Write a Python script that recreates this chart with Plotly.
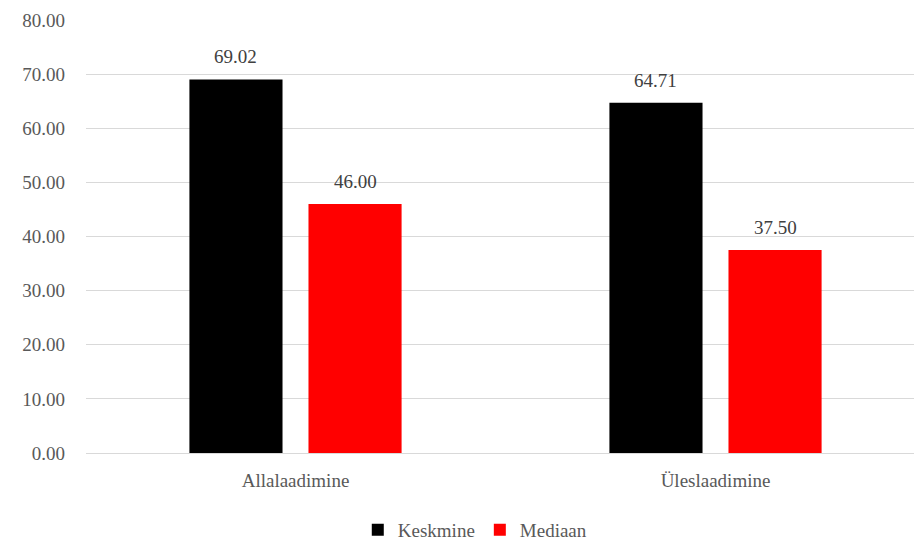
import plotly.graph_objects as go

categories = ["Allalaadimine", "Üleslaadimine"]
keskmine = [69.02, 64.71]
mediaan = [46.00, 37.50]
y_ticks = [0, 10, 20, 30, 40, 50, 60, 70, 80]

font_family = "'Liberation Serif', 'Times New Roman', serif"

fig = go.Figure()
fig.add_trace(go.Bar(name="Keskmine", x=categories, y=keskmine,
                     marker=dict(color="#000000", line=dict(width=0))))
fig.add_trace(go.Bar(name="Mediaan", x=categories, y=mediaan,
                     marker=dict(color="#FF0000", line=dict(width=0))))

# value labels above each bar
offsets = [-0.1429, 0.1417]
for series, off in zip([keskmine, mediaan], offsets):
    for i, v in enumerate(series):
        fig.add_annotation(x=i + off, y=v, xref="x", yref="y",
                           text=f"{v:.2f}", showarrow=False,
                           yanchor="bottom", yshift=10,
                           font=dict(family=font_family, size=19, color="#404040"))

fig.update_layout(
    width=914, height=544,
    margin=dict(l=86, r=0, t=20, b=91, autoexpand=False),
    paper_bgcolor="white", plot_bgcolor="white",
    barmode="group", bargap=0.433, bargroupgap=0.218,
    font=dict(family=font_family, size=19, color="#595959"),
    showlegend=True,
    legend=dict(orientation="h", x=0.52, xref="container", xanchor="center",
                y=1 - 530 / 544, yref="container", yanchor="middle",
                font=dict(family=font_family, size=19, color="#595959"),
                itemwidth=30, tracegroupgap=0),
)
fig.update_xaxes(type="category", range=[-0.4988, 1.4726],
                 showgrid=False, showline=False, ticks="",
                 tickfont=dict(family=font_family, size=19, color="#595959"),
                 ticklabelstandoff=14)
fig.update_yaxes(range=[0, 80], tickvals=y_ticks,
                 ticktext=[f"{t:.2f}" for t in y_ticks],
                 showgrid=True, gridcolor="#D9D9D9", gridwidth=1.3,
                 zeroline=True, zerolinecolor="#D9D9D9", zerolinewidth=1.3,
                 showline=False, ticks="",
                 tickfont=dict(family=font_family, size=19, color="#595959"),
                 ticklabelstandoff=20)

fig.write_html("out.html")
